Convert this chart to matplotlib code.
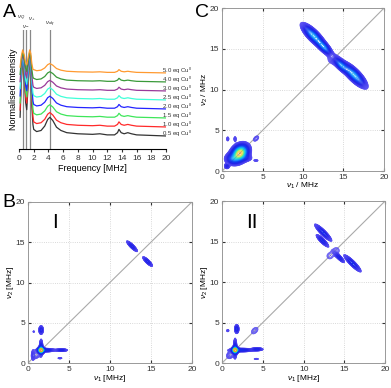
import numpy as np
import matplotlib
matplotlib.use("Agg")
import matplotlib.pyplot as plt
from matplotlib.colors import LinearSegmentedColormap

plt.rcParams["font.family"] = ["Liberation Sans", "DejaVu Sans"]
plt.rcParams["mathtext.fontset"] = "custom"
plt.rcParams["mathtext.rm"] = "Liberation Sans"
plt.rcParams["mathtext.it"] = "Liberation Sans:italic"

# ---------------- panel A: stacked 1D spectra ----------------
trace_labels = ["0.5", "1.0", "1.5", "2.0", "2.5", "3.0", "4.0", "5.0"]
trace_colors = ["#333333", "#ff2a2a", "#3ee65a", "#2424ff", "#40ffd8",
                "#9a3a9a", "#3a9a3a", "#ff9a30"]
trace_offsets = [13, 22, 31, 40, 49, 58, 67, 76]
lf_tops = [88, 90, 91, 92, 94, 95, 97, 99]
hf_scales = [1.1, 0.85, 0.78, 0.75, 0.72, 0.62, 0.6, 0.55]

freq_lf = [0.15, 0.3, 0.5, 0.7, 0.9, 1.05, 1.2, 1.45, 1.6, 1.75, 1.9]
lf_profile = [0.25, 0.7, 1.0, 0.8, 0.45, 0.35, 0.6, 1.0, 0.85, 0.4, 0.15]
freq_hf = [2.0, 2.4, 3.0, 3.5, 3.9, 4.2, 4.6, 5.1, 5.7, 6.5, 8, 10, 11, 12,
           13, 13.4, 13.6, 13.9, 14.3, 14.8, 15.3, 16, 18, 20]
hf_profile = [6, 4, 5, 9, 15, 17, 14, 8, 5, 3, 2, 1.5, 2, 1,
              1, 3, 6, 3, 2, 3, 2, 1, 0.5, 0]

marker_freqs = [0.5, 1.0, 1.5, 4.2]
marker_labels = [r"$\nu_Q$", r"$\nu_-$", r"$\nu_+$", r"$\nu_{dq}$"]
marker_text_x = [0.3, 1.0, 1.75, 4.2]
marker_dy = [7, 0, 7, 1]

# ---------------- 2D HYSCORE peaks: x, y, amp, s_along, s_across, angle ----------------
c_peaks = [
    (11.3, 16.6, 0.50, 0.95, 0.32, -45),
    (12.6, 15.2, 0.40, 0.65, 0.26, -45),
    (14.7, 13.0, 0.40, 0.60, 0.26, -45),
    (16.3, 11.8, 0.50, 1.00, 0.34, -45),
    (13.7, 13.7, 0.05, 0.60, 0.50, 0),
    (2.2, 2.2, 1.00, 0.62, 0.48, 45),
    (1.3, 1.5, 0.25, 0.50, 0.38, 0),
    (0.6, 0.6, 0.15, 0.18, 0.18, 0),
    (0.7, 3.95, 0.06, 0.22, 0.13, 90),
    (1.6, 3.95, 0.06, 0.25, 0.13, 90),
    (4.2, 4.0, 0.05, 0.40, 0.25, 45),
    (4.2, 1.3, 0.05, 0.25, 0.12, 0),
    (3.0, 1.6, 0.08, 0.45, 0.25, 0),
]
b_peaks = [
    (1.6, 1.6, 1.00, 0.20, 0.20, 0),
    (2.2, 1.6, 0.22, 0.60, 0.12, 0),
    (4.1, 1.6, 0.18, 0.40, 0.10, 0),
    (1.6, 1.9, 0.22, 0.55, 0.12, 90),
    (1.6, 4.1, 0.18, 0.30, 0.16, 90),
    (0.7, 3.9, 0.05, 0.10, 0.10, 0),
    (3.9, 0.6, 0.06, 0.22, 0.08, 0),
    (1.0, 1.0, 0.06, 0.45, 0.35, 45),
    (0.6, 1.0, 0.06, 0.45, 0.12, 90),
    (12.7, 14.5, 0.18, 0.50, 0.13, -45),
    (14.6, 12.6, 0.18, 0.45, 0.13, -45),
]
d_peaks = [
    (1.6, 1.6, 1.00, 0.20, 0.20, 0),
    (2.4, 1.6, 0.22, 0.80, 0.12, 0),
    (4.3, 1.7, 0.18, 0.40, 0.11, 0),
    (1.6, 1.8, 0.22, 0.65, 0.12, 90),
    (1.8, 4.2, 0.20, 0.30, 0.15, 90),
    (0.7, 4.0, 0.06, 0.13, 0.13, 0),
    (4.0, 4.0, 0.045, 0.55, 0.35, 45),
    (4.2, 0.5, 0.05, 0.28, 0.09, 0),
    (1.0, 1.0, 0.06, 0.45, 0.35, 45),
    (12.4, 16.1, 0.22, 0.75, 0.17, -45),
    (12.3, 15.1, 0.20, 0.55, 0.15, -45),
    (14.4, 13.0, 0.18, 0.45, 0.13, -45),
    (16.0, 12.3, 0.22, 0.75, 0.17, -45),
    (13.2, 13.2, 0.04, 0.45, 0.45, 0),
    (14.0, 13.9, 0.04, 0.45, 0.45, 0),
]

cmap = LinearSegmentedColormap.from_list(
    "hys", ["#6a5cf5", "#2020e8", "#0a3cf0", "#0a8cff", "#00d2dc",
            "#50e878", "#f0e020", "#ff8c00"])

g = np.linspace(0, 20, 500)
X, Y = np.meshgrid(g, g)


def spectrum(peaks):
    Z = np.zeros_like(X)
    for x0, y0, amp, sa, sc, ang in peaks:
        t = np.deg2rad(ang)
        u = (X - x0) * np.cos(t) + (Y - y0) * np.sin(t)
        v = -(X - x0) * np.sin(t) + (Y - y0) * np.cos(t)
        Z += amp * np.exp(-0.5 * ((u / sa) ** 2 + (v / sc) ** 2))
    return Z


def hyscore(ax, peaks, xlab, ylab):
    ax.grid(True, color="#cccccc", linestyle=":", linewidth=0.6)
    ax.plot([0, 20], [0, 20], color="#aaaaaa", linewidth=0.8)
    ax.contour(X, Y, spectrum(peaks), levels=np.geomspace(0.03, 1.0, 40),
               cmap=cmap, vmin=0, vmax=1, linewidths=0.45)
    ax.set_xlim(0, 20)
    ax.set_ylim(0, 20)
    ax.set_xticks([0, 5, 10, 15, 20])
    ax.set_yticks([0, 5, 10, 15, 20])
    ax.tick_params(direction="in", top=True, right=True, length=2,
                   labelsize=6, colors="#333333", pad=2)
    for s in ax.spines.values():
        s.set_color("#999999")
        s.set_linewidth(0.7)
    ax.set_xlabel(xlab, fontsize=6, labelpad=0)
    ax.set_ylabel(ylab, fontsize=6, labelpad=0)
    ax.set_axisbelow(True)


fig = plt.figure(figsize=(3.91, 3.88), dpi=100)

# panel A
axA = fig.add_axes([0.0486, 0.616, 0.376, 0.307])
for m in marker_freqs:
    axA.axvline(m, color="#888888", linewidth=0.9)
for i in range(len(trace_labels)):
    off = trace_offsets[i]
    y_lf = [off + p * (lf_tops[i] - off) for p in lf_profile]
    y_hf = [off + p * hf_scales[i] for p in hf_profile]
    axA.plot(freq_lf + freq_hf, y_lf + y_hf, color=trace_colors[i], linewidth=0.9)
    axA.text(19.5, off + 2.5, trace_labels[i] + r" eq Cu$^{\rm II}$",
             fontsize=4.3, color="#333333", va="center", ha="left", clip_on=False)
for tx, lab, dy in zip(marker_text_x, marker_labels, marker_dy):
    axA.text(tx, 119 + dy, lab, fontsize=4.4, ha="center", va="bottom",
             color="#333333", clip_on=False)
axA.set_xlim(0, 20)
axA.set_ylim(0, 119)
axA.set_xticks(range(0, 21, 2))
axA.set_yticks([])
axA.tick_params(labelsize=6, length=2, pad=2, colors="#333333")
for s in ["top", "right", "left"]:
    axA.spines[s].set_visible(False)
axA.set_xlabel("Frequency [MHz]", fontsize=6.5, labelpad=2)
axA.set_ylabel("Normalised intensity", fontsize=6.5, labelpad=1)

# panel C
axC = fig.add_axes([0.568, 0.559, 0.414, 0.420])
hyscore(axC, c_peaks, r"$\nu_1$ / MHz", r"$\nu_2$ / MHz")

# panel B
axB = fig.add_axes([0.0716, 0.0644, 0.419, 0.415])
hyscore(axB, b_peaks, r"$\nu_1$ [MHz]", r"$\nu_2$ [MHz]")
axB.text(3.3, 17.4, "I", fontsize=15, ha="center", va="center")

# panel D
axD = fig.add_axes([0.568, 0.0644, 0.417, 0.4175])
hyscore(axD, d_peaks, r"$\nu_1$ [MHz]", r"$\nu_2$ [MHz]")
axD.text(3.7, 17.4, "II", fontsize=15, ha="center", va="center")

fig.text(0.023, 0.968, "A", fontsize=14, ha="center", va="center")
fig.text(0.517, 0.968, "C", fontsize=14, ha="center", va="center")
fig.text(0.023, 0.479, "B", fontsize=14, ha="center", va="center")

fig.savefig("out.png", dpi=100)
